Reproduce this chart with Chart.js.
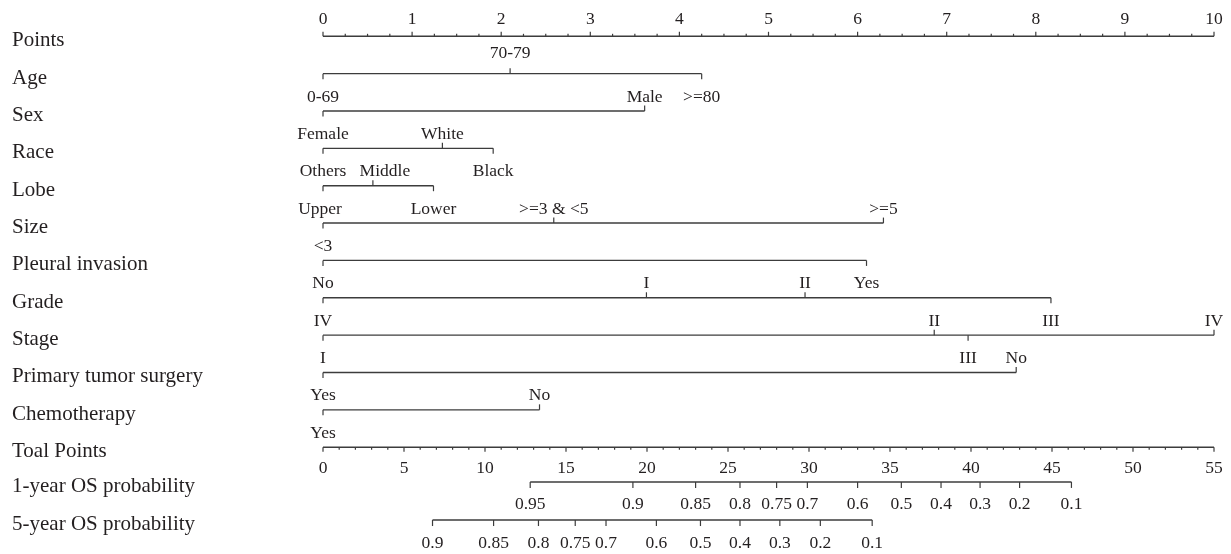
<!DOCTYPE html>
<html><head><meta charset="utf-8">
<script src="https://cdn.jsdelivr.net/npm/chart.js@4.4.1/dist/chart.umd.min.js"></script>
<style>html,body{margin:0;padding:0;background:#fff}#c{display:block}</style>
</head><body><canvas id="c" width="1231" height="554"></canvas>
<script>
// ---------------- DATA ----------------
const rowNames = ['Points','Age','Sex','Race','Lobe','Size','Pleural invasion','Grade','Stage',
  'Primary tumor surgery','Chemotherapy','Toal Points','1-year OS probability','5-year OS probability'];
const pointTicks = [0,1,2,3,4,5,6,7,8,9,10];
const totalTicks = [0,5,10,15,20,25,30,35,40,45,50,55];

const ageLevels = ['0-69','70-79','>=80'];            const agePoints = [0, 2.10, 4.25];
const sexLevels = ['Female','Male'];                  const sexPoints = [0, 3.61];
const raceLevels = ['Others','White','Black'];        const racePoints = [0, 1.34, 1.91];
const lobeLevels = ['Upper','Middle','Lower'];        const lobePoints = [0, 0.56, 1.24];
const sizeLevels = ['<3','>=3 & <5','>=5'];           const sizePoints = [0, 2.59, 6.29];
const pleuralLevels = ['No','Yes'];                   const pleuralPoints = [0, 6.10];
const gradeLevels = ['IV','I','II','III'];            const gradePoints = [0, 3.63, 5.41, 8.17];
const stageLevels = ['I','II','III','IV'];            const stagePoints = [0, 6.86, 7.24, 10];
const surgeryLevels = ['Yes','No'];                   const surgeryPoints = [0, 7.78];
const chemoLevels = ['Yes','No'];                     const chemoPoints = [0, 2.43];

const os1Labels = ['0.95','0.9','0.85','0.8','0.75','0.7','0.6','0.5','0.4','0.3','0.2','0.1'];
const os1Total  = [12.79, 19.13, 23.0, 25.74, 28.0, 29.9, 33.0, 35.7, 38.15, 40.56, 43.0, 46.2];
const os5Labels = ['0.9','0.85','0.8','0.75','0.7','0.6','0.5','0.4','0.3','0.2','0.1'];
const os5Total  = [6.76, 10.53, 13.3, 15.57, 17.47, 20.58, 23.3, 25.74, 28.2, 30.7, 33.9];

// ---------------- LAYOUT / STYLE ----------------
const rowPos = [0,1,2,3,4,5,6,7,8,9,10,11,11.93,12.95];
const LINE = '#3c3c3c', TEXT = '#231f20';
const FONT_VAR = '21px "Liberation Serif", "DejaVu Serif", serif';
const FONT_AX = '17.5px "Liberation Serif", "DejaVu Serif", serif';
const vars = [
  {levels: ageLevels, pts: agePoints, side: ['b','a','b'], lift: 6},
  {levels: sexLevels, pts: sexPoints, side: ['b','a']},
  {levels: raceLevels, pts: racePoints, side: ['b','a','b']},
  {levels: lobeLevels, pts: lobePoints, side: ['b','a','b'], nudge: [-3, 12, 0]},
  {levels: sizeLevels, pts: sizePoints, side: ['b','a','a']},
  {levels: pleuralLevels, pts: pleuralPoints, side: ['b','b']},
  {levels: gradeLevels, pts: gradePoints, side: ['b','a','a','b']},
  {levels: stageLevels, pts: stagePoints, side: ['b','a','b','a']},
  {levels: surgeryLevels, pts: surgeryPoints, side: ['b','a']},
  {levels: chemoLevels, pts: chemoPoints, side: ['b','a']}
];

// ---------------- DATASETS ----------------
function seg(xs, row, axis) {
  return {data: [{x: Math.min(...xs), y: row}, {x: Math.max(...xs), y: row}],
    xAxisID: axis, showLine: true, borderColor: LINE, borderWidth: 1.4,
    pointRadius: 0, pointHoverRadius: 0, clip: false};
}
const datasets = [seg(pointTicks, rowPos[0], 'x')];
vars.forEach((v, i) => datasets.push(seg(v.pts, rowPos[i + 1], 'x')));
datasets.push(seg(totalTicks, rowPos[11], 'xt'));
datasets.push(seg(os1Total, rowPos[12], 'xt'));
datasets.push(seg(os5Total, rowPos[13], 'xt'));

const nomoPlugin = {
  id: 'nomo',
  afterDatasetsDraw(chart) {
    const ctx = chart.ctx, X = chart.scales.x, XT = chart.scales.xt, Y = chart.scales.y;
    ctx.save();
    ctx.strokeStyle = LINE; ctx.fillStyle = TEXT; ctx.lineWidth = 1.2;
    const tick = (px, py, len) => { ctx.beginPath(); ctx.moveTo(px, py); ctx.lineTo(px, py + len); ctx.stroke(); };
    // variable names
    ctx.font = FONT_VAR; ctx.textAlign = 'left'; ctx.textBaseline = 'alphabetic';
    rowNames.forEach((n, i) => ctx.fillText(n, 12, Y.getPixelForValue(rowPos[i]) + 10));
    ctx.font = FONT_AX; ctx.textAlign = 'center';
    // Points axis
    const y0 = Y.getPixelForValue(rowPos[0]);
    const pMin = Math.min(...pointTicks), pMax = Math.max(...pointTicks);
    for (let k = 0; k <= (pMax - pMin) * 4; k++) {
      const v = pMin + k * 0.25;
      tick(X.getPixelForValue(v), y0, (k % 4 === 0) ? -4.5 : -2.5);
    }
    pointTicks.forEach(v => ctx.fillText(String(v), X.getPixelForValue(v), y0 - 12.5));
    // variables
    vars.forEach((v, i) => {
      const yy = Y.getPixelForValue(rowPos[i + 1]);
      v.levels.forEach((lab, j) => {
        const px = X.getPixelForValue(v.pts[j]);
        const lx = px + (v.nudge ? v.nudge[j] : 0);
        if (v.side[j] === 'a') {
          tick(px, yy, -5.5);
          ctx.fillText(lab, lx, yy - 9.5 - (j > 0 && v.lift ? v.lift : 0));
        } else {
          tick(px, yy, 5.5);
          ctx.fillText(lab, lx, yy + 28);
        }
      });
    });
    // Total points axis
    const yt = Y.getPixelForValue(rowPos[11]);
    const tMin = Math.min(...totalTicks), tMax = Math.max(...totalTicks);
    for (let v = tMin; v <= tMax; v++) tick(XT.getPixelForValue(v), yt, (v % 5 === 0) ? 4.5 : 2.5);
    totalTicks.forEach(v => ctx.fillText(String(v), XT.getPixelForValue(v), yt + 26));
    // probability axes
    [[os1Labels, os1Total, rowPos[12]], [os5Labels, os5Total, rowPos[13]]].forEach(([labs, tots, r]) => {
      const yy = Y.getPixelForValue(r);
      labs.forEach((lab, j) => {
        const px = XT.getPixelForValue(tots[j]);
        tick(px, yy, 6);
        ctx.fillText(lab, px, yy + 27.5);
      });
    });
    ctx.restore();
  }
};

new Chart(document.getElementById('c'), {
  type: 'scatter',
  data: {datasets},
  options: {
    responsive: false, animation: false, events: [],
    layout: {padding: {left: 323, right: 17, top: 36.3, bottom: 32.1}},
    plugins: {legend: {display: false}, tooltip: {enabled: false}},
    scales: {
      x: {type: 'linear', display: false, min: Math.min(...pointTicks), max: Math.max(...pointTicks)},
      xt: {type: 'linear', display: false, min: Math.min(...totalTicks), max: Math.max(...totalTicks)},
      y: {type: 'linear', display: false, min: 0, max: 13, reverse: true}
    }
  },
  plugins: [nomoPlugin]
});
</script></body></html>
